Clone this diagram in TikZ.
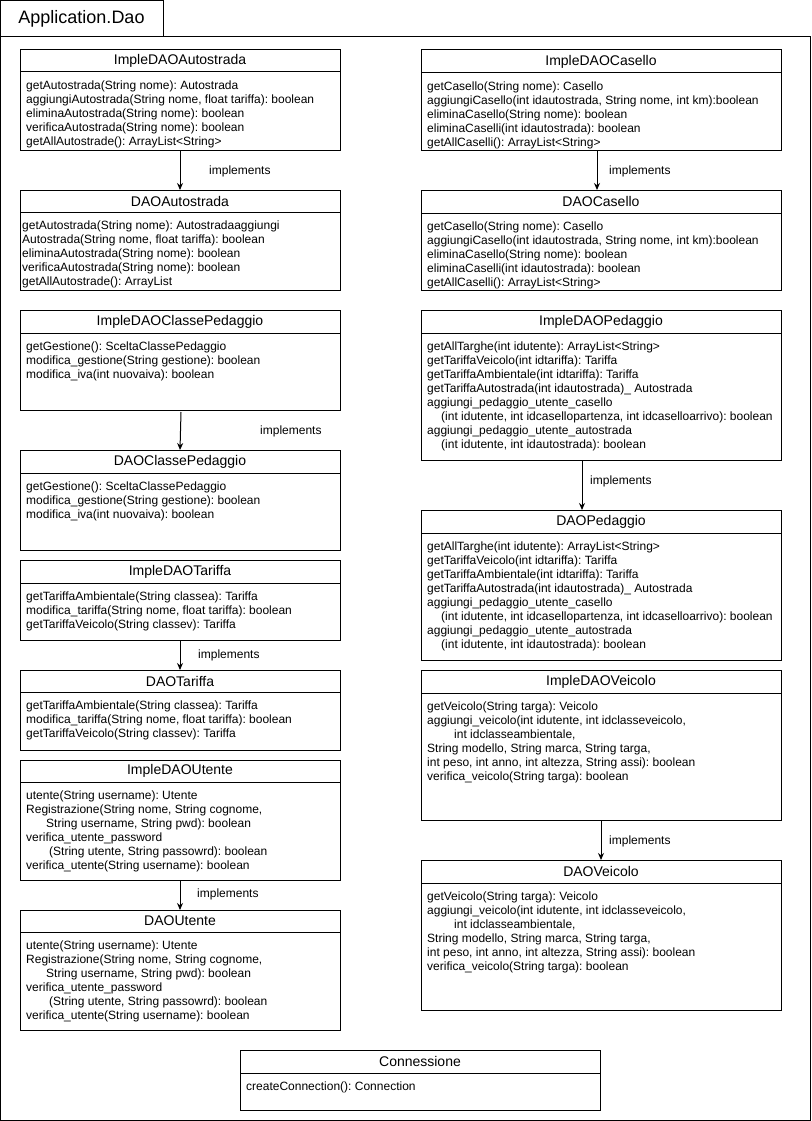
\documentclass[tikz,border=0pt]{standalone}
\usepackage{fontspec}
\setmainfont{Liberation Sans}
\usetikzlibrary{arrows.meta}
\frenchspacing
\tikzset{
 classbox/.style={draw, line width=1pt, inner sep=0pt, outer sep=0pt, fill=white},
 divider/.style={line width=1pt},
 classtitle/.style={font=\fontsize{14}{16}\selectfont, inner sep=0pt},
 members/.style={font=\fontsize{12}{14}\selectfont, inner sep=0pt, anchor=base west},
 implarrow/.style={line width=1pt, -{Stealth[length=7pt,width=6pt]}},
 impllabel/.style={font=\fontsize{12}{14}\selectfont, inner sep=0pt, anchor=west},
 frameline/.style={line width=1pt},
}
% #1 name, #2 x1, #3 top, #4 x2, #5 header line, #6 bottom, #7 title, #8 text x offset, #9 members
\newcommand\umlclass[9]{%
 \node[classbox, minimum width={#4-#2}, minimum height={#6-#3}, anchor=north west] (#1) at (#2,#3) {};
 \draw[divider] (#2,#5) -- (#4,#5);
 \node[classtitle] (#1-t) at ({(#2+#4)/2},{(#3+#5)/2}) {#7};
 \node[members] (#1-m) at ({#2+#8},{#5+17.5}) {\begin{tabular}[t]{@{}l@{}}#9\end{tabular}};
}
\begin{document}
\begin{tikzpicture}[x=1pt,y=-1pt]
\useasboundingbox (0,0) rectangle (811,1121);
\fill[white] (0,0) rectangle (811,1121);
% package frame
\draw[frameline] (0.5,0.5) rectangle (163,37);
\draw[frameline] (0.5,37) rectangle (810.5,1120.5);
\node[font=\fontsize{18}{20}\selectfont, inner sep=0pt] (pkg) at (81.5,19) {Application.Dao};

% left column
\umlclass{iAut}{20}{50}{340}{72}{150}{ImpleDAOAutostrada}{6}{%
getAutostrada(String nome): Autostrada\\
aggiungiAutostrada(String nome, float tariffa): boolean\\
eliminaAutostrada(String nome): boolean\\
verificaAutostrada(String nome): boolean\\
getAllAutostrade(): ArrayList<String>}
\umlclass{dAut}{20}{190}{340}{212}{290}{DAOAutostrada}{2}{%
getAutostrada(String nome): Autostradaaggiungi\\
Autostrada(String nome, float tariffa): boolean\\
eliminaAutostrada(String nome): boolean\\
verificaAutostrada(String nome): boolean\\
getAllAutostrade(): ArrayList}
\umlclass{iCP}{20}{310}{340}{333}{410}{ImpleDAOClassePedaggio}{6}{%
getGestione(): SceltaClassePedaggio\\
modifica\_gestione(String gestione): boolean\\
modifica\_iva(int nuovaiva): boolean}
\umlclass{dCP}{20}{450}{340}{473}{550}{DAOClassePedaggio}{6}{%
getGestione(): SceltaClassePedaggio\\
modifica\_gestione(String gestione): boolean\\
modifica\_iva(int nuovaiva): boolean}
\umlclass{iTar}{20}{560}{340}{583}{640}{ImpleDAOTariffa}{6}{%
getTariffaAmbientale(String classea): Tariffa\\
modifica\_tariffa(String nome, float tariffa): boolean\\
getTariffaVeicolo(String classev): Tariffa}
\umlclass{dTar}{20}{670}{340}{692}{750}{DAOTariffa}{6}{%
getTariffaAmbientale(String classea): Tariffa\\
modifica\_tariffa(String nome, float tariffa): boolean\\
getTariffaVeicolo(String classev): Tariffa}
\umlclass{iUt}{20}{760}{340}{782}{880}{ImpleDAOUtente}{6}{%
utente(String username): Utente\\
Registrazione(String nome, String cognome,\\
\hspace*{20pt}String username, String pwd): boolean\\
verifica\_utente\_password\\
\hspace*{23pt}(String utente, String passowrd): boolean\\
verifica\_utente(String username): boolean}
\umlclass{dUt}{20}{910}{340}{932}{1030}{DAOUtente}{6}{%
utente(String username): Utente\\
Registrazione(String nome, String cognome,\\
\hspace*{20pt}String username, String pwd): boolean\\
verifica\_utente\_password\\
\hspace*{23pt}(String utente, String passowrd): boolean\\
verifica\_utente(String username): boolean}

% right column
\umlclass{iCas}{421}{50}{781}{73}{150}{ImpleDAOCasello}{6}{%
getCasello(String nome): Casello\\
aggiungiCasello(int idautostrada, String nome, int km):boolean\\
eliminaCasello(String nome): boolean\\
eliminaCaselli(int idautostrada): boolean\\
getAllCaselli(): ArrayList<String>}
\umlclass{dCas}{421}{190}{781}{213}{290}{DAOCasello}{6}{%
getCasello(String nome): Casello\\
aggiungiCasello(int idautostrada, String nome, int km):boolean\\
eliminaCasello(String nome): boolean\\
eliminaCaselli(int idautostrada): boolean\\
getAllCaselli(): ArrayList<String>}
\umlclass{iPed}{421}{310}{781}{333}{460}{ImpleDAOPedaggio}{6}{%
getAllTarghe(int idutente): ArrayList<String>\\
getTariffaVeicolo(int idtariffa): Tariffa\\
getTariffaAmbientale(int idtariffa): Tariffa\\
getTariffaAutostrada(int idautostrada)\_ Autostrada\\
aggiungi\_pedaggio\_utente\_casello\\
\hspace*{14pt}(int idutente, int idcasellopartenza, int idcaselloarrivo): boolean\\
aggiungi\_pedaggio\_utente\_autostrada\\
\hspace*{14pt}(int idutente, int idautostrada): boolean}
\umlclass{dPed}{421}{510}{781}{533}{660}{DAOPedaggio}{6}{%
getAllTarghe(int idutente): ArrayList<String>\\
getTariffaVeicolo(int idtariffa): Tariffa\\
getTariffaAmbientale(int idtariffa): Tariffa\\
getTariffaAutostrada(int idautostrada)\_ Autostrada\\
aggiungi\_pedaggio\_utente\_casello\\
\hspace*{14pt}(int idutente, int idcasellopartenza, int idcaselloarrivo): boolean\\
aggiungi\_pedaggio\_utente\_autostrada\\
\hspace*{14pt}(int idutente, int idautostrada): boolean}
\umlclass{iVei}{421}{670}{781}{693}{820}{ImpleDAOVeicolo}{6}{%
getVeicolo(String targa): Veicolo\\
aggiungi\_veicolo(int idutente, int idclasseveicolo,\\
\hspace*{27pt}int idclasseambientale,\\
String modello, String marca, String targa,\\
int peso, int anno, int altezza, String assi): boolean\\
verifica\_veicolo(String targa): boolean}
\umlclass{dVei}{421}{860}{781}{883}{1010}{DAOVeicolo}{6}{%
getVeicolo(String targa): Veicolo\\
aggiungi\_veicolo(int idutente, int idclasseveicolo,\\
\hspace*{27pt}int idclasseambientale,\\
String modello, String marca, String targa,\\
int peso, int anno, int altezza, String assi): boolean\\
verifica\_veicolo(String targa): boolean}

% bottom
\umlclass{conn}{240}{1050}{600}{1073}{1110}{Connessione}{6}{%
createConnection(): Connection}

% connectors
\draw[implarrow] (iAut.south) -- (dAut.north);
\draw[implarrow] ([xshift=1,yshift=-2]iCP.south) -- (dCP.north);
\draw[implarrow] (iTar.south) -- (dTar.north);
\draw[implarrow] (iUt.south) -- (dUt.north);
\draw[implarrow] ([xshift=-4]iCas.south) -- ([xshift=-4]dCas.north);
\draw[implarrow] ([xshift=-19]iPed.south) -- ([xshift=-19]dPed.north);
\draw[implarrow] (iVei.south) -- (dVei.north);

% labels
\node[impllabel] (l1) at (209,171) {implements};
\node[impllabel] (l2) at (260,431) {implements};
\node[impllabel] (l3) at (198,655) {implements};
\node[impllabel] (l4) at (197,894) {implements};
\node[impllabel] (l5) at (609,171) {implements};
\node[impllabel] (l6) at (590,481) {implements};
\node[impllabel] (l7) at (609,841) {implements};
\end{tikzpicture}
\end{document}
